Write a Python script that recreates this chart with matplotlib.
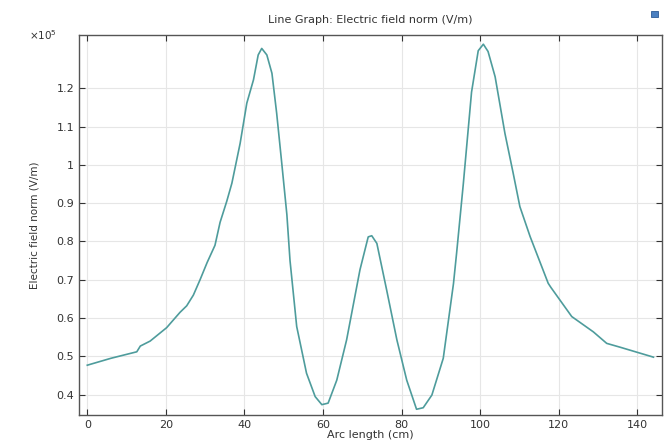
import matplotlib.pyplot as plt
from matplotlib.patches import Rectangle

# arc length (cm) and field norm (x1e5 V/m)
arc_len = [0, 6, 12.6, 13.5, 16, 20.2, 23.6, 25.3, 27, 28.7, 30.5, 32.5, 33.8,
           35.5, 36.8, 38.9, 40.6, 42.3, 43.5, 44.4, 45.7, 47, 48.2, 49.5,
           50.8, 51.6, 53.3, 55.8, 58, 59.7, 61.3, 63.5, 66, 69.4, 71.5, 72.4,
           73.7, 76.2, 78.8, 81.3, 83.8, 85.5, 87.7, 90.6, 93.2, 94, 95.7,
           97.8, 99.5, 100.8, 102, 103.8, 106.3, 108.4, 110.1, 112.7, 117.3,
           118, 123.3, 128.8, 132.2, 135.6, 144.1]
e_norm = [0.477, 0.495, 0.512, 0.527, 0.540, 0.575, 0.615, 0.632, 0.660, 0.700,
          0.745, 0.790, 0.850, 0.905, 0.952, 1.056, 1.161, 1.222, 1.287, 1.304,
          1.287, 1.239, 1.135, 1.004, 0.870, 0.750, 0.578, 0.456, 0.395, 0.374,
          0.378, 0.438, 0.543, 0.726, 0.812, 0.815, 0.795, 0.673, 0.543, 0.438,
          0.362, 0.366, 0.399, 0.495, 0.690, 0.770, 0.950, 1.190, 1.298, 1.315,
          1.296, 1.230, 1.082, 0.978, 0.891, 0.813, 0.691, 0.680, 0.604, 0.564,
          0.534, 0.524, 0.498]

xticks = [0, 20, 40, 60, 80, 100, 120, 140]
yticks = [0.4, 0.5, 0.6, 0.7, 0.8, 0.9, 1.0, 1.1, 1.2]
ylabels = ['0.4', '0.5', '0.6', '0.7', '0.8', '0.9', '1', '1.1', '1.2']

fig = plt.figure(figsize=(6.68, 4.46), dpi=100)
ax = fig.add_axes([0.1183, 0.0695, 0.8723, 0.852])

ax.plot(arc_len, e_norm, c='#4e9c9c', lw=1.2)

ax.set_xlim(-2.1, 146.2)
ax.set_ylim(0.347, 1.339)
ax.set_xticks(xticks)
ax.set_yticks(yticks)
ax.set_yticklabels(ylabels)
ax.grid(True, color='#e6e6e6', lw=0.8)
ax.tick_params(axis='both', direction='in', top=True, right=True,
               labelsize=8, colors='#333333', length=4)
for s in ax.spines.values():
    s.set_color('#555555')
    s.set_linewidth(1.0)

ax.set_xlabel('Arc length (cm)', fontsize=8, color='#333333', labelpad=0)
ax.set_ylabel('Electric field norm (V/m)', fontsize=7.5, color='#333333', labelpad=12)
ax.set_title('Line Graph: Electric field norm (V/m)', fontsize=8, color='#333333', pad=9)
ax.text(-0.085, 1.0, r'$\times 10^5$', transform=ax.transAxes, fontsize=7.5,
        color='#333333', va='center', ha='left')

# small window icon at top right
fig.patches.append(Rectangle((0.974, 0.962), 0.011, 0.014, transform=fig.transFigure,
                             facecolor='#4a7fc0', edgecolor='#2c5a96', lw=0.6))

plt.savefig('out.png', dpi=100)
